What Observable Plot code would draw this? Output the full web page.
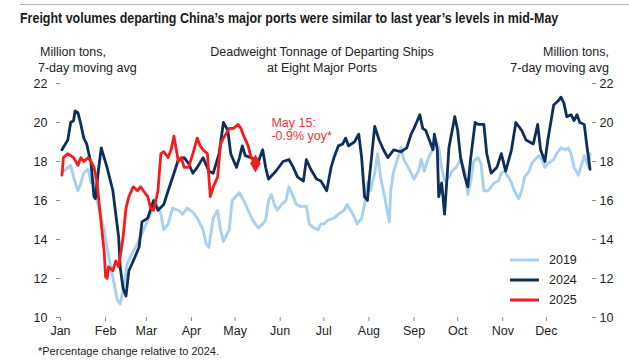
<!DOCTYPE html>
<html>
<head>
<meta charset="utf-8">
<script src="https://cdn.jsdelivr.net/npm/d3@7"></script>
<script src="https://cdn.jsdelivr.net/npm/@observablehq/plot@0.6"></script>
<style>
  html, body { margin: 0; padding: 0; background: #fff; }
  #wrap { position: relative; width: 629px; height: 364px; overflow: hidden; font-family: "Liberation Sans", Arial, sans-serif; color: #222; }
  #wrap svg.plot { position: absolute; left: 0; top: 0; }
  .abs { position: absolute; white-space: nowrap; }
  #rule { position: absolute; left: 20px; top: 4px; width: 609px; height: 1px; background: #b5b5b5; }
  #title { left: 20px; top: 10px; font-family: "Liberation Sans Narrow", "Arial Narrow", "Liberation Sans", sans-serif; font-weight: bold; font-size: 14px; line-height: 16px; color: #1a1a1a; transform: scaleX(0.89); transform-origin: 0 0; }
  .sub { font-size: 12.5px; line-height: 16px; color: #222; }
  #foot { left: 38px; top: 344px; font-size: 11px; line-height: 14px; color: #222; }
  #legend { left: 510px; top: 250px; font-size: 12.5px; line-height: 20px; }
  #legend div { display: flex; align-items: center; height: 20px; }
  #legend svg { margin-right: 10px; }
</style>
</head>
<body>
<div id="wrap">
  <div id="rule"></div>
  <div id="title" class="abs">Freight volumes departing China’s major ports were similar to last year’s levels in mid-May</div>
  <div class="abs sub" style="left:40px; top:44px;">Million tons,</div>
  <div class="abs sub" style="left:38px; top:60px;">7-day moving avg</div>
  <div class="abs sub" style="left:0; width:644px; text-align:center; top:44px;">Deadweight Tonnage of Departing Ships</div>
  <div class="abs sub" style="left:0; width:644px; text-align:center; top:60px;">at Eight Major Ports</div>
  <div class="abs sub" style="right:20px; text-align:right; top:44px;">Million tons,</div>
  <div class="abs sub" style="right:20px; text-align:right; top:60px;">7-day moving avg</div>
  <div id="chart"></div>
  <div id="legend" class="abs"></div>
  <div id="foot" class="abs">*Percentage change relative to 2024.</div>
</div>
<script>
// ---- Data (day of year, 0 = Jan 1) ----
const seriesNames = ["2019", "2024", "2025"];
const seriesColors = ["#a9d0ef", "#0e2f58", "#f41c1c"];

const days2019 = [2,7,9,12,14,16,19,21,23,25,28,30,32,34,37,39,41,43,46,50,53,56,60,63,65,69,71,74,77,81,84,87,91,94,98,100,102,105,108,110,112,116,118,123,126,129,132,134,136,139,141,143,145,147,149,152,155,157,160,162,165,169,171,174,177,179,181,184,188,191,195,197,201,204,207,209,211,212,213,216,218,220,222,226,227,229,232,234,236,239,241,243,246,248,250,253,255,258,260,262,264,267,269,272,275,278,280,282,284,287,289,291,294,296,298,301,303,305,308,310,312,315,317,319,322,324,326,329,331,333,335,339,341,344,347,349,351,353,356,358,360,363,364];
const vals2019 = [17.5,17.8,17.2,16.5,16.9,17.4,17.6,16.9,17.2,16.0,15.1,14.5,13.6,12.8,11.7,10.9,10.7,11.4,12.8,13.4,13.8,14.3,15.0,15.5,16.0,15.3,14.5,14.8,15.6,15.5,15.3,15.6,15.4,15.1,14.5,13.8,13.6,15.1,15.5,14.5,13.9,14.5,16.0,16.4,16.0,15.5,15.0,14.8,14.6,14.8,15.0,16.0,16.3,15.8,15.5,15.8,16.0,16.7,16.2,15.8,15.7,15.7,14.8,14.6,14.5,14.8,14.8,15.0,15.1,15.3,15.5,15.8,15.3,14.8,15.1,15.8,16.9,17.0,16.5,17.4,18.4,17.2,16.5,14.9,16.5,17.5,18.2,18.7,18.1,17.7,17.4,17.1,17.5,18.1,17.5,18.2,18.5,19.1,18.7,17.7,17.0,17.2,17.5,17.7,18.1,17.5,16.3,17.0,18.0,18.2,17.9,16.5,16.5,16.7,16.9,17.0,17.4,17.5,17.2,16.9,16.5,16.1,16.5,17.2,17.5,17.9,18.1,18.3,18.1,17.7,17.9,18.1,18.4,18.7,18.6,18.7,18.4,17.7,17.3,17.8,18.3,17.7,18.4];

const days2024 = [1,5,7,9,10,12,14,16,18,21,23,24,26,28,32,36,38,40,41,43,45,47,50,54,56,60,64,67,71,74,78,81,85,88,91,94,98,102,105,109,112,115,117,121,123,125,127,131,136,139,141,143,148,153,157,160,163,167,169,172,176,179,183,186,188,191,194,196,198,202,205,207,209,211,212,215,216,219,222,225,229,234,238,241,243,247,249,251,253,256,257,259,260,262,264,266,267,270,271,273,275,278,280,282,285,287,291,293,296,300,303,306,310,313,317,320,325,328,330,333,335,339,342,344,346,348,351,353,355,357,360,362,364];
const vals2024 = [18.6,19.1,20.0,20.1,20.6,20.5,19.9,19.2,18.9,17.9,16.2,16.1,17.5,18.7,17.7,16.5,15.3,14.1,12.6,11.5,11.1,12.4,12.9,13.6,14.9,15.1,16.0,15.5,15.8,16.5,17.4,18.1,18.2,17.9,17.4,17.7,18.2,17.5,17.4,18.4,20.0,19.6,18.4,17.7,18.2,18.8,18.3,18.2,18.0,18.6,17.7,17.1,17.5,18.0,18.1,17.7,17.2,17.0,18.1,17.6,17.1,17.0,16.5,17.7,18.2,18.8,18.9,19.2,18.8,19.0,19.4,18.2,16.2,16.0,16.9,19.1,19.8,19.1,18.6,18.2,18.6,18.5,18.7,19.4,19.7,20.4,19.7,19.6,19.2,18.6,19.4,18.6,16.2,16.9,15.3,17.5,18.7,19.9,20.3,19.6,18.2,17.2,16.7,18.2,20.0,19.9,19.9,18.4,17.4,17.7,18.4,17.5,18.6,20.0,19.6,19.1,18.9,19.9,18.6,18.0,19.1,20.9,21.1,21.3,21.0,20.3,20.4,20.1,20.4,20.0,19.9,18.7,17.6];

const days2025 = [1,2,5,7,9,12,14,16,19,21,23,25,28,29,30,31,32,33,36,38,40,43,45,47,50,53,55,57,60,62,64,67,69,71,74,76,78,81,83,85,88,91,94,96,98,101,102,103,105,108,110,112,116,119,122,124,126,129,131,133,134];
const vals2025 = [17.3,18.2,18.4,18.3,18.2,17.8,18.2,18.0,18.2,18.0,17.7,17.0,14.8,14.1,13.4,12.1,12.0,12.6,12.4,12.9,12.6,14.1,15.6,16.2,16.7,16.5,16.7,16.5,16.2,15.6,15.5,16.5,18.4,18.5,18.2,18.6,19.3,18.0,18.2,17.7,17.7,18.4,19.2,18.8,18.6,18.4,17.2,16.2,16.7,17.2,18.9,19.2,19.7,19.7,19.9,19.7,19.3,18.8,18.2,18.0,17.9];

const yTicks = [10, 12, 14, 16, 18, 20, 22];
const monthLabels = ["Jan","Feb","Mar","Apr","May","Jun","Jul","Aug","Sep","Oct","Nov","Dec"];
const annotationText = "May 15:\n-0.9% yoy*";

// ---- Build ----
const t0 = Date.UTC(2025, 0, 1);
const toDate = d => new Date(t0 + d * 864e5);
const rows = (days, vals, year) => days.map((d, i) => ({date: toDate(d), value: vals[i], year}));
const d2019 = rows(days2019, vals2019, "2019");
const d2024 = rows(days2024, vals2024, "2024");
const d2025 = rows(days2025, vals2025, "2025");
const last2025 = [d2025[d2025.length - 1]];
const monthTicks = monthLabels.map((m, i) => new Date(Date.UTC(2025, i, 1)));

const axisColor = "#8c8c8c";
const chart = Plot.plot({
  width: 629,
  height: 364,
  marginTop: 83,
  marginBottom: 47,
  marginLeft: 60,
  marginRight: 38,
  x: {type: "utc", domain: [new Date(t0), new Date(Date.UTC(2026, 0, 1))]},
  y: {domain: [10, 22]},
  style: {fontFamily: "'Liberation Sans', Arial, sans-serif", fontSize: "12.5px", color: "#222", background: "transparent", overflow: "visible"},
  marks: [
    Plot.axisY({anchor: "left", ticks: yTicks, tickSize: 4, tickPadding: 9, line: true, stroke: axisColor, fill: "#222", label: null}),
    Plot.axisY({anchor: "right", ticks: yTicks, tickSize: 4, tickPadding: 4, line: true, stroke: axisColor, fill: "#222", label: null}),
    Plot.axisX({anchor: "bottom", ticks: monthTicks, tickFormat: d => monthLabels[d.getUTCMonth()], tickSize: 4, tickPadding: 5, line: true, stroke: axisColor, fill: "#222", label: null}),
    Plot.line(d2019, {x: "date", y: "value", stroke: seriesColors[0], strokeWidth: 2.9}),
    Plot.line(d2024, {x: "date", y: "value", stroke: seriesColors[1], strokeWidth: 2.8}),
    Plot.line(d2025, {x: "date", y: "value", stroke: seriesColors[2], strokeWidth: 2.8}),
    Plot.dot(last2025, {x: "date", y: "value", symbol: "diamond", r: 5.5, fill: seriesColors[2], stroke: null}),
    Plot.text(last2025, {x: "date", y: "value", text: () => annotationText, textAnchor: "start", lineAnchor: "top", lineHeight: 1.05, dx: 16, dy: -46, fill: "#f03434", fontSize: 12.5})
  ]
});
chart.classList.add("plot");
document.getElementById("chart").appendChild(chart);

// legend
const legend = document.getElementById("legend");
seriesNames.forEach((name, i) => {
  const row = document.createElement("div");
  row.innerHTML = `<svg width="29" height="6"><line x1="0" x2="29" y1="3" y2="3" stroke="${seriesColors[i]}" stroke-width="3"/></svg><span>${name}</span>`;
  legend.appendChild(row);
});
</script>
</body>
</html>
